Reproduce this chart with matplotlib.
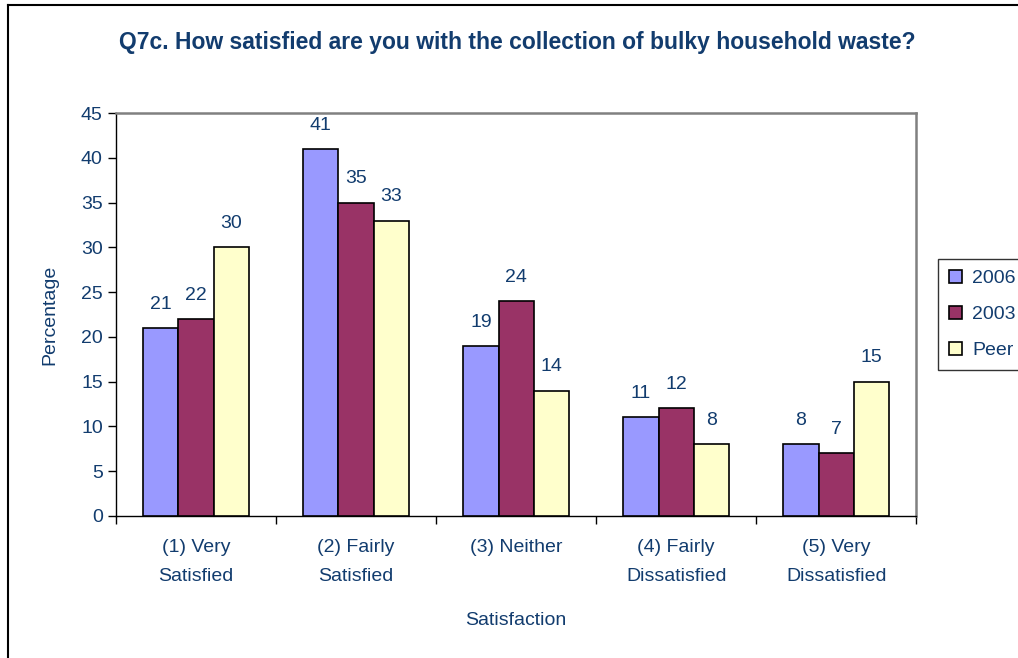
import numpy as np
import matplotlib.pyplot as plt
from matplotlib.lines import Line2D

plt.rcParams['font.family'] = ['Liberation Sans', 'DejaVu Sans']

##############################
#           DATA             #
##############################
categories = ['(1) Very\nSatisfied', '(2) Fairly\nSatisfied', '(3) Neither',
              '(4) Fairly\nDissatisfied', '(5) Very\nDissatisfied']
series = ['2006', '2003', 'Peer']
v2006 = [21, 41, 19, 11, 8]
v2003 = [22, 35, 24, 12, 7]
vpeer = [30, 33, 14, 8, 15]

colors = ['#9999FF', '#993366', '#FFFFCC']
txt = '#123C6E'

##############################
#           PLOT             #
##############################
fig = plt.figure(figsize=(10.18, 6.58), dpi=100)
ax = fig.add_axes([0.114, 0.216, 0.786, 0.612])

x = np.arange(len(categories))
w = 0.22
for k, (name, vals) in enumerate(zip(series, [v2006, v2003, vpeer])):
    bars = ax.bar(x + (k - 1) * w, vals, w, color=colors[k], edgecolor='black',
                  linewidth=1.2, label=name, zorder=3)
    for b, v in zip(bars, vals):
        ax.annotate(str(v), (b.get_x() + b.get_width() / 2, v), xytext=(0, 11),
                    textcoords='offset points', ha='center', va='bottom',
                    fontsize=14, color=txt)

ax.set_xlim(-0.5, len(categories) - 0.5)
ax.set_ylim(0, 45)
ax.set_yticks(np.arange(0, 46, 5))
ax.set_xticks(x)
ax.set_xticklabels(categories, fontsize=14, color=txt, linespacing=1.85)
ax.set_xticks(np.arange(-0.5, len(categories)), minor=True)
ax.tick_params(axis='x', which='major', length=0, pad=17)
ax.tick_params(axis='x', which='minor', length=6, width=1, direction='out')
ax.tick_params(axis='y', labelsize=14, labelcolor=txt, length=6, width=1, direction='out')

for s in ['top', 'right']:
    ax.spines[s].set_color('#808080')
    ax.spines[s].set_linewidth(1.8)
for s in ['left', 'bottom']:
    ax.spines[s].set_color('black')
    ax.spines[s].set_linewidth(1)

ax.set_xlabel('Satisfaction', fontsize=14, color=txt, labelpad=20)
ax.set_ylabel('Percentage', fontsize=14, color=txt, labelpad=16)

fig.text(0.508, 0.936, 'Q7c. How satisfied are you with the collection of bulky household waste?',
         ha='center', va='center', fontsize=16.5, fontweight='bold', color=txt)

leg = ax.legend(loc='center left', bbox_to_anchor=(1.015, 0.5), fontsize=14,
                frameon=True, fancybox=False, borderpad=0.55, labelspacing=0.95,
                handlelength=0.7, handleheight=0.7, handletextpad=0.5)
leg.get_frame().set_edgecolor('black')
leg.get_frame().set_linewidth(1)
for t in leg.get_texts():
    t.set_color(txt)

# chart area frame (top and left edges)
fig.add_artist(Line2D([0.008, 1.0], [0.993, 0.993], color='black', lw=1.5, transform=fig.transFigure))
fig.add_artist(Line2D([0.008, 0.008], [0.0, 0.993], color='black', lw=1.5, transform=fig.transFigure))

fig.savefig('out.png', dpi=100)
